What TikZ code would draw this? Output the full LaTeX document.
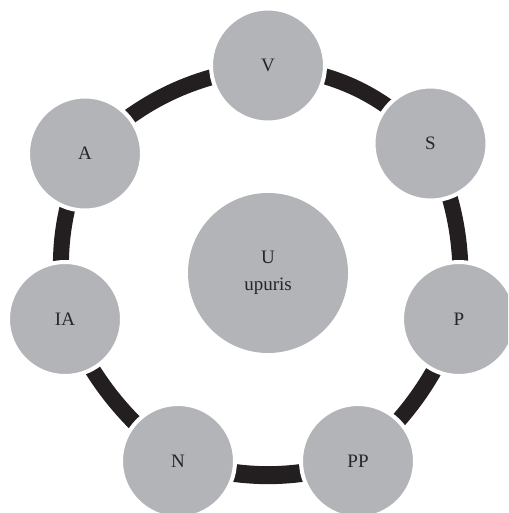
\documentclass[tikz,border=0pt]{standalone}
\usepackage{fontspec}
\setmainfont{Liberation Serif}
\usetikzlibrary{backgrounds}
\definecolor{nodegrey}{RGB}{179,180,184}
\definecolor{ringblack}{RGB}{35,31,32}
\begin{document}
\begin{tikzpicture}[x=1pt,y=-1pt,
  outer/.style={circle,fill=nodegrey,draw=white,line width=4pt,minimum size=114pt,inner sep=0pt,
    font=\fontsize{19}{27}\selectfont,text=black!85},
  hub/.style={circle,fill=nodegrey,minimum size=160pt,inner sep=0pt,align=center,
    font=\fontsize{19}{27}\selectfont,text=black!85},
  ring/.style={draw=ringblack,line width=16pt}]
\useasboundingbox (0,0) rectangle (508,513);
\clip (0,0) rectangle (508,513);
\node[hub] (U) at (268,273) {U\\upuris};
\node[outer] (V) at (268,65.5) {V};
\node[outer] (S) at (430.5,143.5) {S};
\node[outer] (P) at (459,319) {P};
\node[outer] (PP) at (358,461) {PP};
\node[outer] (N) at (178,461) {N};
\node[outer] (IA) at (65,319) {IA};
\node[outer] (A) at (85,153.5) {A};
\begin{pgfonlayer}{background}
\draw[ring] (V.center) to[bend left=19.5] (S.center);
\draw[ring] (S.center) to[bend left=13.5] (P.center);
\draw[ring] (P.center) to[bend left=12.5] (PP.center);
\draw[ring,line width=18pt] (PP.center) to[bend left=15.6] (N.center);
\draw[ring] (N.center) to[bend left=13] (IA.center);
\draw[ring] (IA.center) to[bend left=14.7] (A.center);
\draw[ring] (A.center) to[bend left=17.5] (V.center);
\end{pgfonlayer}
\end{tikzpicture}
\end{document}
